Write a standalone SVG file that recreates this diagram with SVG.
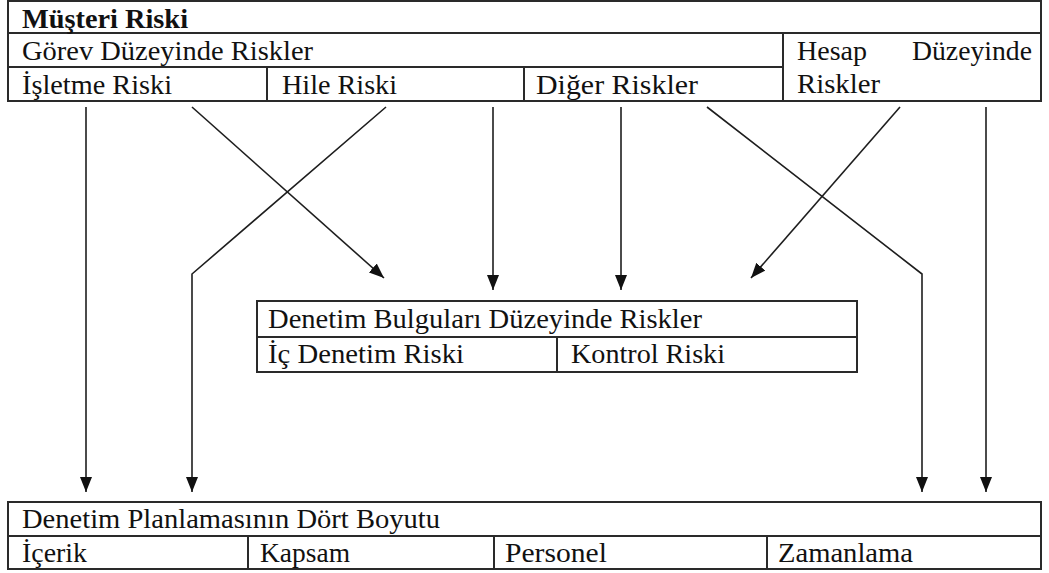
<svg xmlns="http://www.w3.org/2000/svg" width="1049" height="573" viewBox="0 0 1049 573">
  <style>
    .cell { fill: none; stroke: #2a2a2a; stroke-width: 2; }
    .rule { stroke: #2a2a2a; stroke-width: 2; fill: none; }
    .lbl { font-family: "Liberation Serif", "Times New Roman", serif; font-size: 28px; fill: #111; }
    .bold { font-weight: bold; }
    .conn { stroke: #1e1e1e; stroke-width: 1.6; fill: none; marker-end: url(#head); }
  </style>
  <defs>
    <marker id="head" markerUnits="userSpaceOnUse" markerWidth="16" markerHeight="13" refX="15" refY="6.5" orient="auto">
      <path d="M0,0.5 L15,6.5 L0,12.5 z" fill="#111"/>
    </marker>
  </defs>
  <rect width="1049" height="573" fill="#fff"/>

  <!-- Customer risk table -->
  <g id="musteri-riski">
    <rect class="cell" x="8" y="1" width="1033" height="100"/>
    <line class="rule" x1="8" y1="33" x2="1041" y2="33"/>
    <text class="lbl bold" x="22" y="28" textLength="166" lengthAdjust="spacingAndGlyphs">Müşteri Riski</text>
  </g>
  <g id="gorev-duzeyinde">
    <line class="rule" x1="8" y1="67" x2="783" y2="67"/>
    <line class="rule" x1="783" y1="33" x2="783" y2="101"/>
    <text class="lbl" x="22" y="60" textLength="291" lengthAdjust="spacingAndGlyphs">Görev Düzeyinde Riskler</text>
  </g>
  <g id="isletme-riski">
    <line class="rule" x1="267" y1="67" x2="267" y2="101"/>
    <text class="lbl" x="22" y="94" textLength="150" lengthAdjust="spacingAndGlyphs">İşletme Riski</text>
  </g>
  <g id="hile-riski">
    <line class="rule" x1="524" y1="67" x2="524" y2="101"/>
    <text class="lbl" x="282" y="94" textLength="115" lengthAdjust="spacingAndGlyphs">Hile Riski</text>
  </g>
  <g id="diger-riskler">
    <text class="lbl" x="536" y="94" textLength="162" lengthAdjust="spacingAndGlyphs">Diğer Riskler</text>
  </g>
  <g id="hesap-duzeyinde">
    <text class="lbl" x="797" y="60" textLength="70" lengthAdjust="spacingAndGlyphs">Hesap</text>
    <text class="lbl" x="912" y="60" textLength="120" lengthAdjust="spacingAndGlyphs">Düzeyinde</text>
    <text class="lbl" x="797" y="93" textLength="83" lengthAdjust="spacingAndGlyphs">Riskler</text>
  </g>

  <!-- Audit findings table -->
  <g id="denetim-bulgulari">
    <rect class="cell" x="257" y="301" width="600" height="71"/>
    <line class="rule" x1="257" y1="337" x2="857" y2="337"/>
    <line class="rule" x1="557" y1="337" x2="557" y2="372"/>
    <text class="lbl" x="268" y="328" textLength="434" lengthAdjust="spacingAndGlyphs">Denetim Bulguları Düzeyinde Riskler</text>
    <text class="lbl" x="268" y="363" textLength="196" lengthAdjust="spacingAndGlyphs">İç Denetim Riski</text>
    <text class="lbl" x="571" y="363" textLength="154" lengthAdjust="spacingAndGlyphs">Kontrol Riski</text>
  </g>

  <!-- Audit planning table -->
  <g id="denetim-planlamasi">
    <rect class="cell" x="8" y="502" width="1033" height="67"/>
    <line class="rule" x1="8" y1="536" x2="1041" y2="536"/>
    <line class="rule" x1="248" y1="536" x2="248" y2="569"/>
    <line class="rule" x1="494" y1="536" x2="494" y2="569"/>
    <line class="rule" x1="767" y1="536" x2="767" y2="569"/>
    <text class="lbl" x="22" y="528" textLength="418" lengthAdjust="spacingAndGlyphs">Denetim Planlamasının Dört Boyutu</text>
    <text class="lbl" x="22" y="562" textLength="65" lengthAdjust="spacingAndGlyphs">İçerik</text>
    <text class="lbl" x="260" y="562" textLength="90" lengthAdjust="spacingAndGlyphs">Kapsam</text>
    <text class="lbl" x="505" y="562" textLength="102" lengthAdjust="spacingAndGlyphs">Personel</text>
    <text class="lbl" x="778" y="562" textLength="135" lengthAdjust="spacingAndGlyphs">Zamanlama</text>
  </g>

  <!-- Connectors -->
  <g id="connectors">
    <line class="conn" x1="86" y1="107" x2="86" y2="492"/>
    <polyline class="conn" points="386,107 192,274 192,492"/>
    <line class="conn" x1="192" y1="107" x2="384" y2="278"/>
    <line class="conn" x1="493" y1="107" x2="493" y2="290"/>
    <line class="conn" x1="621" y1="107" x2="621" y2="290"/>
    <polyline class="conn" points="707,107 922,274 922,492"/>
    <line class="conn" x1="900" y1="107" x2="751" y2="278"/>
    <line class="conn" x1="986" y1="107" x2="986" y2="492"/>
  </g>
</svg>
